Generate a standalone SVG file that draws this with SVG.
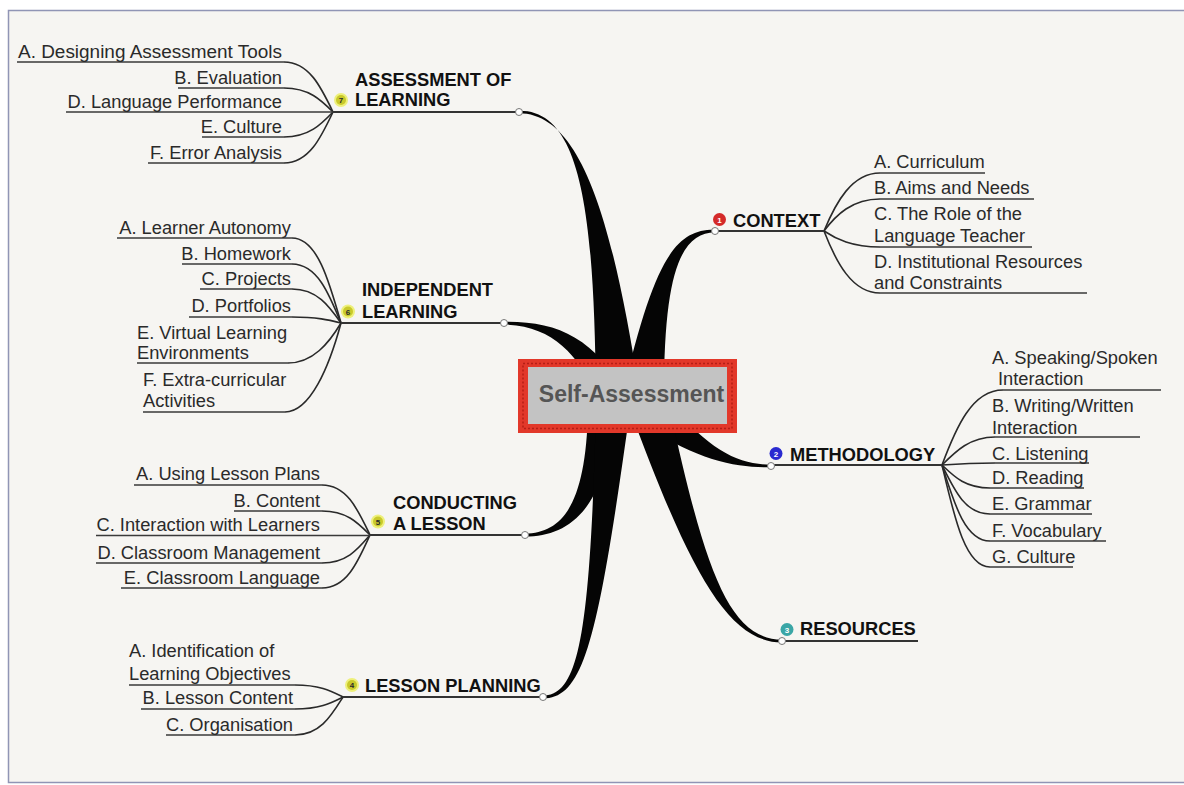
<svg xmlns="http://www.w3.org/2000/svg" width="1184" height="785" viewBox="0 0 1184 785">
<defs>
<style>
text{font-family:"Liberation Sans",Arial,sans-serif;font-size:18.3px;fill:#2a2a2a}
.t{font-weight:bold;fill:#111}
.ul{stroke:#3a3a3a;stroke-width:1.5;fill:none}
.tl{stroke:#333;stroke-width:2;fill:none}
.cv{stroke:#2a2a2a;stroke-width:1.6;fill:none}
.br{fill:#050505}
.dot{fill:#fff;stroke:#777;stroke-width:1}
.ico text{font-size:8px;font-weight:bold;text-anchor:middle}
.y1{fill:#eef07a}
.y2{fill:#c9c92a}
</style>
</defs>
<rect width="1184" height="785" fill="#fff"/>
<rect x="8.5" y="10.5" width="1180" height="772" fill="#f6f5f2" stroke="#9095b5" stroke-width="1.5"/>

<g id="connectors">
<path class="br" d="M519,110.8 C582,110 594,215 596,396 L640,396 C612,215 580,113.5 519,113.2 Z"/>
<path class="br" d="M715,229.8 C674,229 654,262 622,396 L664,396 C664,268 682,233.5 715,232.2 Z"/>
<path class="br" d="M504,321.8 C558,321 594,338 628,396 L598,396 C577,354 552,325.5 504,324.6 Z"/>
<path class="br" d="M771,464.8 C738,464 712,452 668,402 L646,426 C700,462 738,467.5 771,467.3 Z"/>
<path class="br" d="M782,639.6 C730,639 706,575 670,410 L630,410 C690,572 728,642.4 782,642.4 Z"/>
<path class="br" d="M525,533.6 C565,533 586,500 588,410 L614,410 C608,505 572,536.6 525,536.6 Z"/>
<path class="br" d="M543,695.6 C578,695 590,640 596,410 L630,410 C598,640 584,698.4 543,698.4 Z"/>
<path class="cv" d="M284,62 C309,62 321,87 333,112"/>
<path class="cv" d="M284,88 C309,88 321,100 333,112"/>
<path class="cv" d="M284,137 C309,137 321,124.5 333,112"/>
<path class="cv" d="M284,163 C309,163 321,137.5 333,112"/>
<path class="cv" d="M292,238 C317,238 329,280.5 341,323"/>
<path class="cv" d="M292,264 C317,264 329,293.5 341,323"/>
<path class="cv" d="M292,289 C317,289 329,306 341,323"/>
<path class="cv" d="M292,317 C317,317 329,320 341,323"/>
<path class="cv" d="M288,363 C313,363 329,343 341,323"/>
<path class="cv" d="M285,412 C310,412 329,367.5 341,323"/>
<path class="cv" d="M322,485 C347,485 358,510 370,535"/>
<path class="cv" d="M322,511 C347,511 358,523 370,535"/>
<path class="cv" d="M322,563 C347,563 358,549 370,535"/>
<path class="cv" d="M322,588 C347,588 358,561.5 370,535"/>
<path class="cv" d="M295,685 C320,685 331,691 343,697"/>
<path class="cv" d="M295,709 C320,709 331,703 343,697"/>
<path class="cv" d="M295,735 C320,735 331,716 343,697"/>
<path class="cv" d="M824,231 C836,202 852,173 880,173"/>
<path class="cv" d="M824,231 C836,215 852,199 880,199"/>
<path class="cv" d="M824,231 C836,239 852,247 880,247"/>
<path class="cv" d="M824,231 C836,262 852,293 880,293"/>
<path class="cv" d="M942,465 C956,427.5 972,390 1003,390"/>
<path class="cv" d="M942,465 C956,451 970,437 995,437"/>
<path class="cv" d="M942,465 C956,464 970,463 995,463"/>
<path class="cv" d="M942,465 C954,476.5 965,488 990,488"/>
<path class="cv" d="M942,465 C954,489.5 965,514 990,514"/>
<path class="cv" d="M942,465 C954,503 965,541 990,541"/>
<path class="cv" d="M942,465 C954,516 965,567 990,567"/>
</g>

<g id="center">
<rect x="518" y="359" width="219" height="74" fill="#e2382a"/>
<rect x="523" y="363.5" width="209" height="65" fill="none" stroke="#b51e16" stroke-width="1.5" stroke-dasharray="2 2"/>
<rect x="528" y="367" width="199" height="57" fill="#c3c3c3"/>
<text x="631.5" y="402" text-anchor="middle" style="font-size:23px;font-weight:bold;fill:#555">Self-Assessment</text>
</g>

<g id="assessment">
<path class="ul" d="M17,62H284M178,88H284M66,112H333M202,137H284M148,163H284"/>
<path class="tl" d="M333,112H519"/>
<g text-anchor="end">
<text x="282" y="57.5" textLength="264" lengthAdjust="spacingAndGlyphs">A. Designing Assessment Tools</text>
<text x="282" y="83.5">B. Evaluation</text>
<text x="282" y="108">D. Language Performance</text>
<text x="282" y="133">E. Culture</text>
<text x="282" y="159">F. Error Analysis</text>
</g>
<g class="ico"><circle cx="341" cy="100" r="7" class="y1"/><circle cx="341" cy="100" r="5" class="y2"/><text x="341" y="103">7</text></g>
<text class="t" x="355" y="86">ASSESSMENT OF</text>
<text class="t" x="355" y="106">LEARNING</text>
<circle class="dot" cx="519" cy="112" r="3.5"/>
</g>

<g id="independent">
<path class="ul" d="M117,238H292M182,264H292M200,289H292M189,317H292M137,363H288M143,412H285"/>
<path class="tl" d="M341,323H504"/>
<g text-anchor="end">
<text x="291" y="233.5">A. Learner Autonomy</text>
<text x="291" y="259.5">B. Homework</text>
<text x="291" y="284.5">C. Projects</text>
<text x="291" y="312">D. Portfolios</text>
</g>
<text x="137" y="338.5">E. Virtual Learning</text>
<text x="137" y="358.5">Environments</text>
<text x="143" y="386">F. Extra-curricular</text>
<text x="143" y="407">Activities</text>
<g class="ico"><circle cx="348" cy="311.5" r="7" class="y1"/><circle cx="348" cy="311.5" r="5" class="y2"/><text x="348" y="314.5">6</text></g>
<text class="t" x="362" y="295.5">INDEPENDENT</text>
<text class="t" x="362" y="317.5">LEARNING</text>
<circle class="dot" cx="504" cy="323" r="3.5"/>
</g>

<g id="conducting">
<path class="ul" d="M134,485H322M234,511H322M96,535.5H370M96,563H322M121,588H322"/>
<path class="tl" d="M370,535H525"/>
<g text-anchor="end">
<text x="320" y="480">A. Using Lesson Plans</text>
<text x="320" y="506.5">B. Content</text>
<text x="320" y="531">C. Interaction with Learners</text>
<text x="320" y="558.5">D. Classroom Management</text>
<text x="320" y="583.5">E. Classroom Language</text>
</g>
<g class="ico"><circle cx="378" cy="521.5" r="7" class="y1"/><circle cx="378" cy="521.5" r="5" class="y2"/><text x="378" y="524.5">5</text></g>
<text class="t" x="393" y="508.5">CONDUCTING</text>
<text class="t" x="393" y="530">A LESSON</text>
<circle class="dot" cx="525" cy="535" r="3.5"/>
</g>

<g id="planning">
<path class="ul" d="M129,685H295M141,709H295M166,735H295"/>
<path class="tl" d="M343,697H543"/>
<text x="129" y="656.5">A. Identification of</text>
<text x="129" y="679.5">Learning Objectives</text>
<g text-anchor="end">
<text x="293" y="704">B. Lesson Content</text>
<text x="293" y="730.5">C. Organisation</text>
</g>
<g class="ico"><circle cx="352" cy="685" r="7" class="y1"/><circle cx="352" cy="685" r="5" class="y2"/><text x="352" y="688">4</text></g>
<text class="t" x="365" y="692">LESSON PLANNING</text>
<circle class="dot" cx="543" cy="697" r="3.5"/>
</g>

<g id="context">
<path class="ul" d="M880,173H985M880,199H1034M880,247H1032M880,293H1087"/>
<path class="tl" d="M715,231H824"/>
<text x="874" y="167.5">A. Curriculum</text>
<text x="874" y="194">B. Aims and Needs</text>
<text x="874" y="219.5">C. The Role of the</text>
<text x="874" y="241.5">Language Teacher</text>
<text x="874" y="267.5">D. Institutional Resources</text>
<text x="874" y="289">and Constraints</text>
<g class="ico"><circle cx="719.5" cy="219.5" r="6.5" fill="#d42a2a"/><text x="719.5" y="222.5" style="fill:#fff">1</text></g>
<text class="t" x="733" y="227">CONTEXT</text>
<circle class="dot" cx="715" cy="231" r="3.5"/>
</g>

<g id="methodology">
<path class="ul" d="M1003,390H1161M995,437H1140M995,463H1089M990,488H1084M990,514H1092M990,541H1106M990,567H1073"/>
<path class="tl" d="M771,465H942"/>
<text x="992" y="363.5">A. Speaking/Spoken</text>
<text x="998" y="385">Interaction</text>
<text x="992" y="411.5">B. Writing/Written</text>
<text x="992" y="433.5">Interaction</text>
<text x="992" y="459.5">C. Listening</text>
<text x="992" y="483.5">D. Reading</text>
<text x="992" y="510">E. Grammar</text>
<text x="992" y="536.5">F. Vocabulary</text>
<text x="992" y="562.5">G. Culture</text>
<g class="ico"><circle cx="776" cy="453.5" r="6.5" fill="#2a2ad0"/><text x="776" y="456.5" style="fill:#fff">2</text></g>
<text class="t" x="790" y="460.5">METHODOLOGY</text>
<circle class="dot" cx="771" cy="466" r="3.5"/>
</g>

<g id="resources">
<path class="tl" d="M782,641H918"/>
<g class="ico"><circle cx="787" cy="629.5" r="6.5" fill="#3aa6a6"/><text x="787" y="632.5" style="fill:#fff">3</text></g>
<text class="t" x="800" y="635">RESOURCES</text>
<circle class="dot" cx="782" cy="641" r="3.5"/>
</g>
</svg>
